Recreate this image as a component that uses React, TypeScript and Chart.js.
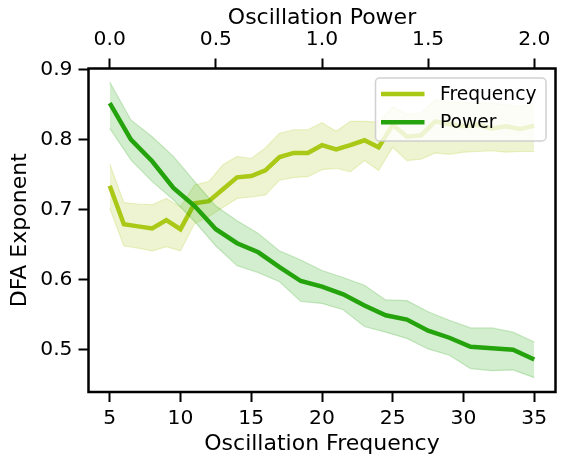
import React, { useEffect, useRef } from "react";
import { Chart, registerables } from "chart.js";

Chart.register(...registerables);

// ---- Data ----
const freqX = [5, 6, 7, 8, 9, 10, 11, 12, 13, 14, 15, 16, 17, 18, 19, 20, 21, 22, 23, 24, 25, 26, 27, 28, 29, 30, 31, 32, 33, 34, 35];
const freqMean = [0.734, 0.679, 0.676, 0.673, 0.685, 0.672, 0.709, 0.712, 0.729, 0.746, 0.748, 0.756, 0.775, 0.781, 0.781, 0.792, 0.786, 0.792, 0.799, 0.789, 0.821, 0.804, 0.806, 0.826, 0.822, 0.819, 0.821, 0.816, 0.819, 0.815, 0.82];
const freqUpper = [0.765, 0.71, 0.708, 0.707, 0.716, 0.704, 0.735, 0.74, 0.764, 0.776, 0.773, 0.788, 0.809, 0.814, 0.814, 0.824, 0.812, 0.826, 0.826, 0.825, 0.847, 0.836, 0.838, 0.857, 0.853, 0.853, 0.852, 0.852, 0.85, 0.847, 0.852];
const freqLower = [0.702, 0.648, 0.645, 0.641, 0.647, 0.641, 0.68, 0.69, 0.703, 0.716, 0.718, 0.721, 0.742, 0.746, 0.747, 0.757, 0.759, 0.754, 0.77, 0.756, 0.789, 0.77, 0.772, 0.781, 0.779, 0.782, 0.783, 0.784, 0.782, 0.783, 0.783];

const powerX = [0.0, 0.1, 0.2, 0.3, 0.4, 0.5, 0.6, 0.7, 0.8, 0.9, 1.0, 1.1, 1.2, 1.3, 1.4, 1.5, 1.6, 1.7, 1.8, 1.9, 2.0];
const powerMean = [0.852, 0.8, 0.769, 0.731, 0.705, 0.672, 0.652, 0.639, 0.618, 0.598, 0.59, 0.579, 0.563, 0.549, 0.543, 0.527, 0.517, 0.504, 0.502, 0.5, 0.486];
const powerUpper = [0.882, 0.828, 0.804, 0.776, 0.74, 0.705, 0.684, 0.666, 0.641, 0.628, 0.613, 0.603, 0.592, 0.571, 0.57, 0.554, 0.542, 0.531, 0.531, 0.525, 0.511];
const powerLower = [0.816, 0.771, 0.74, 0.714, 0.683, 0.648, 0.62, 0.61, 0.597, 0.569, 0.566, 0.557, 0.533, 0.525, 0.516, 0.501, 0.492, 0.473, 0.47, 0.471, 0.46];

const freqTicks = [5, 10, 15, 20, 25, 30, 35];
const powerTicks = [0.0, 0.5, 1.0, 1.5, 2.0];
const yTicks = [0.5, 0.6, 0.7, 0.8, 0.9];

const seriesNames = ["Frequency", "Power"];
const FREQ_COLOR = "#aac917";
const POWER_COLOR = "#25a30d";
const FREQ_FILL = "rgba(170,201,23,0.2)";
const POWER_FILL = "rgba(37,163,13,0.2)";

const FONT = "'DejaVu Sans', sans-serif";

const pts = (xs: number[], ys: number[]) => xs.map((x, i) => ({ x, y: ys[i] }));

const framePlugin = {
  id: "frame",
  afterDatasetsDraw(chart: any) {
    const { ctx, chartArea: a } = chart;
    ctx.save();
    ctx.strokeStyle = "#000";
    ctx.lineWidth = 2.5;
    ctx.lineJoin = "miter";
    ctx.strokeRect(a.left, a.top, a.right - a.left, a.bottom - a.top);
    ctx.restore();
  },
};

const legendPlugin = {
  id: "customLegend",
  afterDraw(chart: any) {
    const { ctx } = chart;
    const x0 = 375.5, y0 = 78, w = 170.5, h = 63, r = 4;
    ctx.save();
    ctx.beginPath();
    ctx.moveTo(x0 + r, y0);
    ctx.lineTo(x0 + w - r, y0);
    ctx.arcTo(x0 + w, y0, x0 + w, y0 + r, r);
    ctx.lineTo(x0 + w, y0 + h - r);
    ctx.arcTo(x0 + w, y0 + h, x0 + w - r, y0 + h, r);
    ctx.lineTo(x0 + r, y0 + h);
    ctx.arcTo(x0, y0 + h, x0, y0 + h - r, r);
    ctx.lineTo(x0, y0 + r);
    ctx.arcTo(x0, y0, x0 + r, y0, r);
    ctx.closePath();
    ctx.fillStyle = "rgba(255,255,255,0.8)";
    ctx.fill();
    ctx.strokeStyle = "rgba(204,204,204,0.9)";
    ctx.lineWidth = 1.5;
    ctx.stroke();
    const colors = [FREQ_COLOR, POWER_COLOR];
    const ys = [94, 122.3];
    ctx.font = `18.7px ${FONT}`;
    ctx.textBaseline = "middle";
    ctx.textAlign = "left";
    seriesNames.forEach((name, i) => {
      ctx.beginPath();
      ctx.moveTo(381, ys[i]);
      ctx.lineTo(424.5, ys[i]);
      ctx.strokeStyle = colors[i];
      ctx.lineWidth = 4.5;
      ctx.lineCap = "butt";
      ctx.stroke();
      ctx.fillStyle = "#000";
      ctx.fillText(name, 440, ys[i] + 1);
    });
    ctx.restore();
  },
};

export default function App() {
  const ref = useRef<HTMLCanvasElement | null>(null);

  useEffect(() => {
    if (!ref.current) return;
    const tickFont = { family: FONT, size: 20.3 };
    const titleFont = { family: FONT, size: 22, lineHeight: 1.2 };
    const gridCommon = {
      drawOnChartArea: false,
      drawTicks: true,
      tickLength: 10,
      tickWidth: 2,
      tickColor: "#000",
    };
    const chart = new Chart(ref.current, {
      type: "line",
      data: {
        datasets: [
          {
            label: "Power",
            data: pts(powerX, powerMean),
            xAxisID: "x2",
            yAxisID: "y",
            borderColor: POWER_COLOR,
            borderWidth: 4.5,
            pointRadius: 0,
            fill: false,
            tension: 0,
            order: 0,
          },
          {
            label: "powerUpper",
            data: pts(powerX, powerUpper),
            xAxisID: "x2",
            yAxisID: "y",
            borderColor: "rgba(37,163,13,0.22)",
            borderWidth: 1.2,
            backgroundColor: POWER_FILL,
            pointRadius: 0,
            fill: "+1",
            tension: 0,
            order: 1,
          },
          {
            label: "powerLower",
            data: pts(powerX, powerLower),
            xAxisID: "x2",
            yAxisID: "y",
            borderColor: "rgba(37,163,13,0.22)",
            borderWidth: 1.2,
            pointRadius: 0,
            fill: false,
            tension: 0,
            order: 1,
          },
          {
            label: "Frequency",
            data: pts(freqX, freqMean),
            xAxisID: "x",
            yAxisID: "y",
            borderColor: FREQ_COLOR,
            borderWidth: 4.5,
            pointRadius: 0,
            fill: false,
            tension: 0,
            order: 2,
          },
          {
            label: "freqUpper",
            data: pts(freqX, freqUpper),
            xAxisID: "x",
            yAxisID: "y",
            borderColor: "rgba(170,201,23,0.22)",
            borderWidth: 1.2,
            backgroundColor: FREQ_FILL,
            pointRadius: 0,
            fill: "+1",
            tension: 0,
            order: 3,
          },
          {
            label: "freqLower",
            data: pts(freqX, freqLower),
            xAxisID: "x",
            yAxisID: "y",
            borderColor: "rgba(170,201,23,0.22)",
            borderWidth: 1.2,
            pointRadius: 0,
            fill: false,
            tension: 0,
            order: 3,
          },
        ],
      },
      options: {
        responsive: false,
        animation: false,
        layout: { padding: { left: 0, right: 9.5, top: 0, bottom: 0 } },
        plugins: {
          legend: { display: false },
          tooltip: { enabled: false },
        },
        scales: {
          x: {
            type: "linear",
            position: "bottom",
            min: 3.5,
            max: 36.5,
            afterBuildTicks: (s: any) => {
              s.ticks = freqTicks.map((v) => ({ value: v }));
            },
            afterFit: (s: any) => {
              s.height = 73;
            },
            ticks: {
              font: tickFont,
              color: "#000",
              padding: 5,
              maxRotation: 0,
              callback: (v: any) => String(v),
            },
            grid: gridCommon,
            border: { display: false },
            title: {
              display: true,
              text: "Oscillation Frequency",
              font: titleFont,
              color: "#000",
              padding: { top: 0, bottom: 8 },
            },
          },
          x2: {
            type: "linear",
            position: "top",
            min: -0.1,
            max: 2.1,
            afterBuildTicks: (s: any) => {
              s.ticks = powerTicks.map((v) => ({ value: v }));
            },
            afterFit: (s: any) => {
              s.height = 68.5;
            },
            ticks: {
              font: tickFont,
              color: "#000",
              padding: 7,
              maxRotation: 0,
              callback: (v: any) => Number(v).toFixed(1),
            },
            grid: gridCommon,
            border: { display: false },
            title: {
              display: true,
              text: "Oscillation Power",
              font: titleFont,
              color: "#000",
              padding: { top: 5, bottom: 0 },
            },
          },
          y: {
            type: "linear",
            position: "left",
            min: 0.4395,
            max: 0.9015,
            afterBuildTicks: (s: any) => {
              s.ticks = yTicks.map((v) => ({ value: v }));
            },
            afterFit: (s: any) => {
              s.width = 88.5;
            },
            ticks: {
              font: tickFont,
              color: "#000",
              padding: 6,
              callback: (v: any) => Number(v).toFixed(1),
            },
            grid: gridCommon,
            border: { display: false },
            title: {
              display: true,
              text: "DFA Exponent",
              font: titleFont,
              color: "#000",
              padding: { top: 7, bottom: 0 },
            },
          },
        },
      },
      plugins: [framePlugin, legendPlugin],
    } as any);
    return () => chart.destroy();
  }, []);

  return (
    <div style={{ position: "absolute", left: 0, top: 0, width: 565, height: 465, background: "#fff" }}>
      <canvas ref={ref} width={565} height={465} style={{ display: "block", width: 565, height: 465 }} />
    </div>
  );
}
